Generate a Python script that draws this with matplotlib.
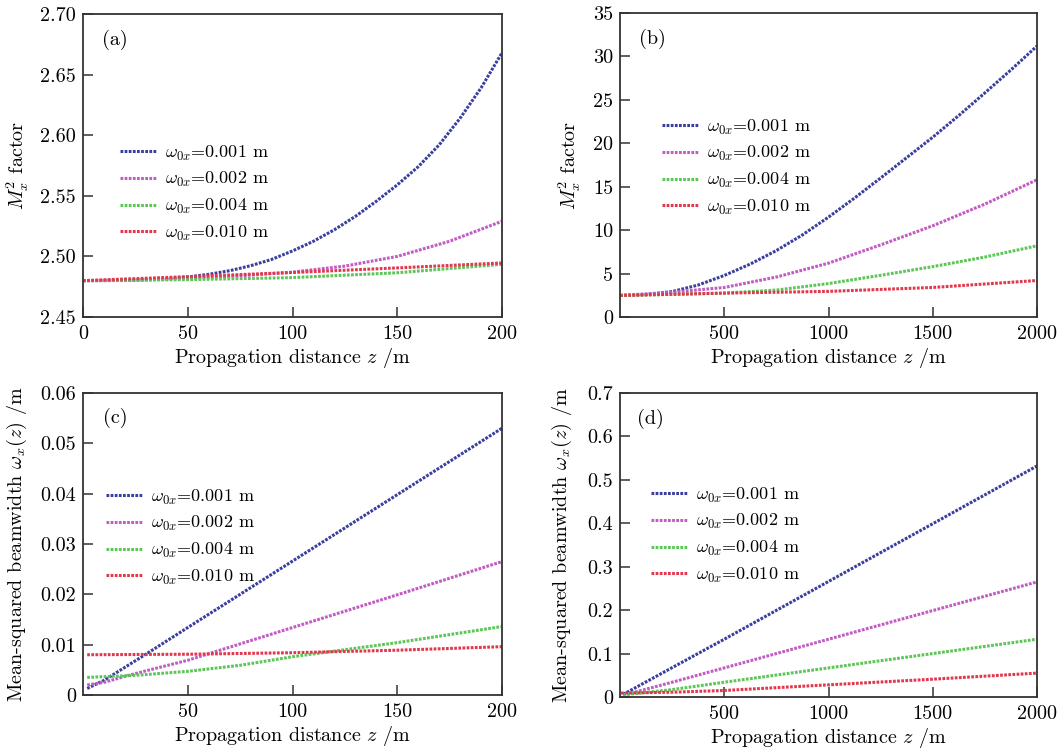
import matplotlib
matplotlib.use("Agg")
import matplotlib.pyplot as plt

plt.rcParams['font.family'] = 'serif'
plt.rcParams['font.serif'] = ['cmr10', 'DejaVu Serif']
plt.rcParams['mathtext.fontset'] = 'cm'
plt.rcParams['axes.unicode_minus'] = False

# ---------------- data ----------------
labels = [r"$\omega_{0x}$=0.001 m", r"$\omega_{0x}$=0.002 m",
          r"$\omega_{0x}$=0.004 m", r"$\omega_{0x}$=0.010 m"]
colors = ['#3a3f9e', '#c25bc4', '#5cc657', '#e2384e']

# (a) M^2 factor, short range
za_blue = [0, 10, 20, 30, 40, 50, 60, 70, 80, 90, 100, 110, 120, 130, 140, 150, 160, 170, 180, 190, 200]
ma_blue = [2.480, 2.480, 2.4802, 2.4807, 2.4815, 2.483, 2.4852, 2.4882, 2.4923, 2.4975, 2.5045,
           2.5125, 2.522, 2.533, 2.5455, 2.559, 2.574, 2.592, 2.614, 2.639, 2.668]
za_mag = [0, 25, 50, 75, 100, 125, 150, 175, 200]
ma_mag = [2.480, 2.4805, 2.482, 2.484, 2.487, 2.492, 2.500, 2.5125, 2.529]
za_grn = [0, 50, 100, 150, 200]
ma_grn = [2.480, 2.4808, 2.4825, 2.4865, 2.4935]
za_red = [0, 50, 100, 150, 200]
ma_red = [2.480, 2.4833, 2.4867, 2.4905, 2.4946]

# (b) M^2 factor, long range
zb_blue = [0, 125, 250, 375, 500, 625, 750, 875, 1000, 1125, 1250, 1375, 1500, 1625, 1750, 1875, 2000]
mb_blue = [2.48, 2.58, 2.93, 3.68, 4.78, 6.1, 7.65, 9.45, 11.5, 13.7, 16.0, 18.35, 20.7, 23.2, 25.8, 28.45, 31.2]
zb_mag = [0, 250, 500, 750, 1000, 1250, 1500, 1750, 2000]
mb_mag = [2.48, 2.85, 3.4, 4.6, 6.2, 8.3, 10.5, 13.0, 15.8]
zb_grn = [0, 250, 500, 750, 1000, 1250, 1500, 1750, 2000]
mb_grn = [2.48, 2.6, 2.75, 3.1, 3.85, 4.8, 5.8, 6.9, 8.2]
zb_red = [0, 500, 1000, 1500, 2000]
mb_red = [2.48, 2.75, 2.95, 3.4, 4.2]

# (c) mean-squared beamwidth, short range
zc_blue = [2, 10, 20, 30, 50, 100, 150, 200]
wc_blue = [0.0013, 0.0029, 0.0055, 0.0081, 0.0134, 0.0266, 0.0398, 0.0530]
zc_mag = [2, 10, 20, 30, 50, 100, 150, 200]
wc_mag = [0.0020, 0.0025, 0.0037, 0.0048, 0.0069, 0.0134, 0.0199, 0.0265]
zc_grn = [2, 25, 50, 75, 100, 150, 200]
wc_grn = [0.0035, 0.0039, 0.0047, 0.0059, 0.0076, 0.0104, 0.0136]
zc_red = [2, 50, 100, 150, 200]
wc_red = [0.0080, 0.0081, 0.0084, 0.0089, 0.0096]

# (d) mean-squared beamwidth, long range
zd_blue = [15, 500, 1000, 1500, 2000]
wd_blue = [0.006, 0.133, 0.266, 0.399, 0.532]
zd_mag = [15, 250, 500, 1000, 1500, 2000]
wd_mag = [0.004, 0.034, 0.067, 0.133, 0.199, 0.265]
zd_grn = [15, 250, 500, 1000, 1500, 2000]
wd_grn = [0.005, 0.017, 0.034, 0.067, 0.100, 0.133]
zd_red = [5, 250, 500, 1000, 1500, 2000]
wd_red = [0.009, 0.011, 0.015, 0.028, 0.041, 0.055]

xticks_a = [0, 50, 100, 150, 200]
yticks_a = [2.45, 2.50, 2.55, 2.60, 2.65, 2.70]
yticklabels_a = ['2.45', '2.50', '2.55', '2.60', '2.65', '2.70']
xticks_b = [500, 1000, 1500, 2000]
yticks_b = [0, 5, 10, 15, 20, 25, 30, 35]
xticks_c = [50, 100, 150, 200]
yticks_c = [0, 0.01, 0.02, 0.03, 0.04, 0.05, 0.06]
yticklabels_c = ['0', '0.01', '0.02', '0.03', '0.04', '0.05', '0.06']
xticks_d = [500, 1000, 1500, 2000]
yticks_d = [0, 0.1, 0.2, 0.3, 0.4, 0.5, 0.6, 0.7]
yticklabels_d = ['0', '0.1', '0.2', '0.3', '0.4', '0.5', '0.6', '0.7']

# ---------------- figure ----------------
W, H = 1064, 752
fig = plt.figure(figsize=(W / 100, H / 100), dpi=100)

def px_axes(l, t, r, b):
    return fig.add_axes([l / W, (H - b) / H, (r - l) / W, (b - t) / H])

axA = px_axes(83, 14, 502, 317)
axB = px_axes(620, 13, 1037, 317)
axC = px_axes(83, 393, 502, 695)
axD = px_axes(620, 393, 1037, 697)

ls = (0, (0.9, 0.45))
lw = 2.2

def draw(ax, series):
    for (x, y), c, lab in zip(series, colors, labels):
        ax.plot(x, y, color=c, lw=lw, ls=ls, label=lab, dash_capstyle='butt')

draw(axA, [(za_blue, ma_blue), (za_mag, ma_mag), (za_grn, ma_grn), (za_red, ma_red)])
draw(axB, [(zb_blue, mb_blue), (zb_mag, mb_mag), (zb_grn, mb_grn), (zb_red, mb_red)])
draw(axC, [(zc_blue, wc_blue), (zc_mag, wc_mag), (zc_grn, wc_grn), (zc_red, wc_red)])
draw(axD, [(zd_blue, wd_blue), (zd_mag, wd_mag), (zd_grn, wd_grn), (zd_red, wd_red)])

axA.set_xlim(0, 200); axA.set_ylim(2.45, 2.70)
axA.set_xticks(xticks_a); axA.set_xticklabels([str(v) for v in xticks_a])
axA.set_yticks(yticks_a); axA.set_yticklabels(yticklabels_a)

axB.set_xlim(0, 2000); axB.set_ylim(0, 35)
axB.set_xticks(xticks_b); axB.set_xticklabels([str(v) for v in xticks_b])
axB.set_yticks(yticks_b); axB.set_yticklabels([str(v) for v in yticks_b])

axC.set_xlim(0, 200); axC.set_ylim(0, 0.06)
axC.set_xticks(xticks_c); axC.set_xticklabels([str(v) for v in xticks_c])
axC.set_yticks(yticks_c); axC.set_yticklabels(yticklabels_c)

axD.set_xlim(0, 2000); axD.set_ylim(0, 0.7)
axD.set_xticks(xticks_d); axD.set_xticklabels([str(v) for v in xticks_d])
axD.set_yticks(yticks_d); axD.set_yticklabels(yticklabels_d)

fs_tick = 14.5
fs_lab = 14.5
fs_leg = 13.0

panel = {axA: ('(a)', 0.076, 0.914, 0.088, 0.572, -0.124),
         axB: ('(b)', 0.077, 0.914, 0.100, 0.656, -0.089),
         axC: ('(c)', 0.076, 0.917, 0.055, 0.687, -0.129),
         axD: ('(d)', 0.074, 0.914, 0.074, 0.695, -0.110)}

for ax, (tag, tx, ty, lx, ly, ylx) in panel.items():
    for s in ax.spines.values():
        s.set_color('#333333')
        s.set_linewidth(1.3)
    ax.tick_params(direction='in', length=7, width=1.1, color='#333333',
                   labelsize=fs_tick, top=False, right=False, pad=6)
    ax.tick_params(axis='y', pad=5)
    ax.set_xlabel(r"Propagation distance $z$ /m", fontsize=fs_lab)
    ax.xaxis.set_label_coords(0.5, -0.095)
    ax.text(tx, ty, tag, transform=ax.transAxes, fontsize=fs_lab,
            ha='center', va='center')
    leg = ax.legend(loc='upper left', bbox_to_anchor=(lx, ly), frameon=False,
                    fontsize=fs_leg, handlelength=2.0, handletextpad=0.5,
                    labelspacing=0.42, borderpad=0, borderaxespad=0)
    ax.yaxis.set_label_coords(ylx, 0.5)

axA.set_ylabel(r"$M_x^2$ factor", fontsize=fs_lab)
axB.set_ylabel(r"$M_x^2$ factor", fontsize=fs_lab)
axC.set_ylabel(r"Mean-squared beamwidth $\omega_x(z)$ /m", fontsize=fs_lab)
axD.set_ylabel(r"Mean-squared beamwidth $\omega_x(z)$ /m", fontsize=fs_lab)

fig.savefig('out.png', dpi=100)
